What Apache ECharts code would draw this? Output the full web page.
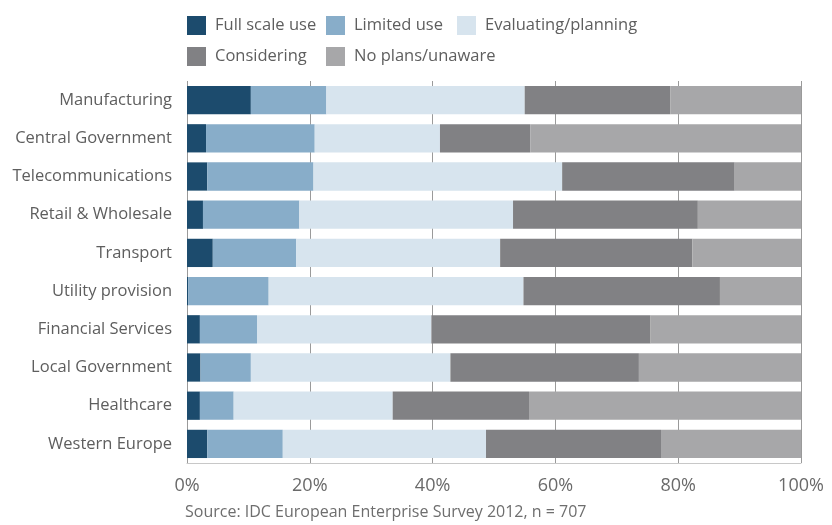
<!DOCTYPE html>
<html>
<head>
<meta charset="utf-8">
<script src="https://cdn.jsdelivr.net/npm/echarts@6/dist/echarts.min.js"></script>
<style>
html,body{margin:0;padding:0;background:#fff;}
#c{width:832px;height:525px;}
</style>
</head>
<body>
<div id="c"></div>
<script>
const categories = ["Manufacturing","Central Government","Telecommunications","Retail & Wholesale","Transport","Utility provision","Financial Services","Local Government","Healthcare","Western Europe"];
const seriesNames = ["Full scale use","Limited use","Evaluating/planning","Considering","No plans/unaware"];
const fullScale   = [10.4, 3.1, 3.3, 2.6, 4.2, 0.2, 2.1, 2.2, 2.1, 3.3];
const limitedUse  = [12.3, 17.7, 17.3, 15.7, 13.6, 13.1, 9.3, 8.2, 5.5, 12.3];
const evaluating  = [32.3, 20.4, 40.5, 34.8, 33.2, 41.5, 28.4, 32.5, 25.9, 33.1];
const considering = [23.7, 14.7, 28.1, 30.1, 31.3, 32.0, 35.7, 30.7, 22.2, 28.5];
const noPlans     = [21.3, 44.1, 10.8, 16.8, 17.7, 13.2, 24.5, 26.4, 44.3, 22.8];
const xTicks = ["0%","20%","40%","60%","80%","100%"];
const sourceText = "Source: IDC European Enterprise Survey 2012, n = 707";

const colors = ["#1c4b6d","#88adc9","#d7e4ee","#818184","#a7a7a9"];
const values = [fullScale, limitedUse, evaluating, considering, noPlans];
const font = "'Open Sans', 'Noto Sans', sans-serif";

const legendPos = [[187,16],[326,16],[457,16],[187,47],[326,47]];
const legends = seriesNames.map((n,i)=>({
  data:[n], left:legendPos[i][0], top:legendPos[i][1],
  itemWidth:19, itemHeight:19, itemGap:0, padding:0,
  icon:'rect', selectedMode:false,
  textStyle:{fontFamily:font, fontSize:16.5, color:'#5e5e5e', padding:[0,0,0,4]}
}));

const chart = echarts.init(document.getElementById('c'), null, {renderer:'canvas'});
chart.setOption({
  backgroundColor:'#fff',
  animation:false,
  color:colors,
  legend:legends,
  grid:{left:187, right:31, top:81, bottom:62},
  xAxis:{
    type:'value', min:0, max:100, interval:20,
    axisLine:{show:true, lineStyle:{color:'#c8c8c8'}},
    axisTick:{show:false},
    splitLine:{show:true, lineStyle:{color:'#9a9a9a', width:1}},
    axisLabel:{fontFamily:font, fontSize:18, color:'#6a6a6a', margin:14,
      formatter:(v)=>xTicks[Math.round(v/20)]}
  },
  yAxis:{
    type:'category', data:categories, inverse:true,
    axisLine:{show:false}, axisTick:{show:false},
    axisLabel:{fontFamily:font, fontSize:16.5, color:'#5e5e5e', margin:15}
  },
  graphic:[{
    type:'text', left:185, top:504,
    style:{text:sourceText, fontFamily:font, fontSize:16, fill:'#6e6e6e'}
  }],
  series: seriesNames.map((n,i)=>({
    name:n, type:'bar', stack:'total', data:values[i],
    barCategoryGap:'26%',
    itemStyle:{color:colors[i]}
  }))
});
</script>
</body>
</html>
